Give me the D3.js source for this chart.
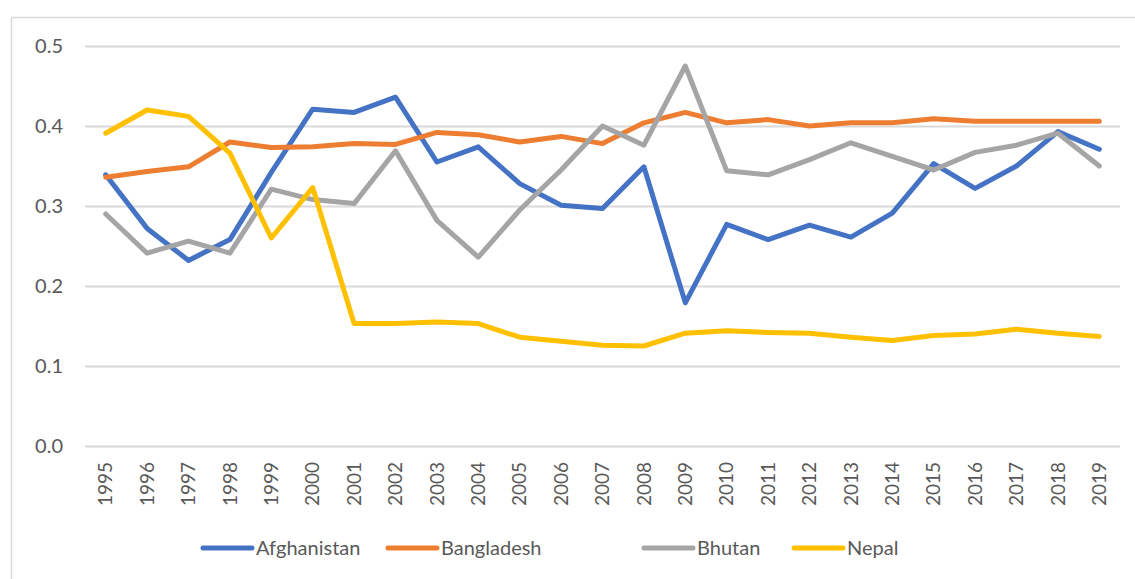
<!DOCTYPE html>
<html>
  <head>
    <meta charset="utf-8">
    <script src="https://d3js.org/d3.v7.min.js"></script>
    <style>
      body { margin: 0; background: #fff; }
      .tick text { fill: #595959; font-family: Lato, "Open Sans", sans-serif; }
      .legend text { fill: #595959; font-family: Lato, "Open Sans", sans-serif; font-size: 20px; }
    </style>
  </head>
  <body>
    <svg width="1135" height="579"></svg>
    <script>
      // data
      const years = ['1995','1996','1997','1998','1999','2000','2001','2002','2003','2004','2005','2006',
                     '2007','2008','2009','2010','2011','2012','2013','2014','2015','2016','2017','2018','2019'];
      const afghanistan = [0.339,0.272,0.232,0.258,0.342,0.421,0.417,0.436,0.355,0.374,0.328,0.301,
                           0.297,0.349,0.179,0.277,0.258,0.276,0.261,0.291,0.353,0.322,0.350,0.393,0.371];
      const bangladesh = [0.336,0.343,0.349,0.380,0.373,0.374,0.378,0.377,0.392,0.389,0.380,0.387,
                          0.378,0.404,0.417,0.404,0.408,0.400,0.404,0.404,0.409,0.406,0.406,0.406,0.406];
      const bhutan = [0.290,0.241,0.256,0.241,0.321,0.308,0.303,0.369,0.282,0.236,0.295,0.345,
                      0.400,0.376,0.475,0.344,0.339,0.358,0.379,0.362,0.345,0.367,0.376,0.391,0.350];
      const nepal = [0.391,0.420,0.412,0.366,0.260,0.323,0.153,0.153,0.155,0.153,0.136,0.131,
                     0.126,0.125,0.141,0.144,0.142,0.141,0.136,0.132,0.138,0.140,0.146,0.141,0.137];
      const seriesNames = ['Afghanistan','Bangladesh','Bhutan','Nepal'];
      const seriesColors = ['#4472c4','#ed7d31','#a5a5a5','#ffc000'];
      const yTicks = [0, 0.1, 0.2, 0.3, 0.4, 0.5];

      const series = [afghanistan, bangladesh, bhutan, nepal].map((vals, i) => ({
        name: seriesNames[i], color: seriesColors[i],
        values: vals.map((v, j) => ({ year: years[j], v: v }))
      }));

      const svg = d3.select('svg');

      // chart border: top and left edges
      svg.append('line')
        .attr('x1', 11.5).attr('y1', 17.5).attr('x2', 1135).attr('y2', 17.5)
        .attr('stroke', '#d9d9d9').attr('stroke-width', 1.5);
      svg.append('line')
        .attr('x1', 11.5).attr('y1', 17.5).attr('x2', 11.5).attr('y2', 579)
        .attr('stroke', '#d9d9d9').attr('stroke-width', 1.5);

      const margin = { left: 85, right: 15, top: 46, bottom: 133 };
      const innerWidth = 1135 - margin.left - margin.right;
      const innerHeight = 579 - margin.top - margin.bottom;

      const g = svg.append('g')
        .attr('transform', `translate(${margin.left}, ${margin.top})`);

      const xScale = d3.scaleBand().domain(years).range([0, innerWidth]);
      const yScale = d3.scaleLinear().domain([0, 0.5]).range([innerHeight, 0]);

      // y axis with grid
      const yAxisG = g.append('g')
        .call(d3.axisLeft(yScale)
          .tickValues(yTicks)
          .tickFormat(d3.format('.1f'))
          .tickSize(-innerWidth)
          .tickPadding(22));
      yAxisG.select('.domain').remove();
      yAxisG.selectAll('.tick line').attr('stroke', '#d9d9d9').attr('stroke-width', 2);
      yAxisG.selectAll('.tick text').style('font-size', '20px');

      // x axis, rotated labels
      const xAxisG = g.append('g')
        .attr('transform', `translate(0, ${innerHeight})`)
        .call(d3.axisBottom(xScale).tickSize(0));
      xAxisG.select('.domain').remove();
      xAxisG.selectAll('.tick text')
        .style('font-size', '19px')
        .attr('text-anchor', 'end')
        .attr('transform', 'rotate(-90)')
        .attr('x', -16)
        .attr('y', 0)
        .attr('dy', '0.35em');

      // lines
      const line = d3.line()
        .x(d => xScale(d.year) + xScale.bandwidth() / 2)
        .y(d => yScale(d.v));

      g.selectAll('.series').data(series)
        .enter().append('path')
          .attr('class', 'series')
          .attr('d', d => line(d.values))
          .attr('fill', 'none')
          .attr('stroke', d => d.color)
          .attr('stroke-width', 5)
          .attr('stroke-linejoin', 'round')
          .attr('stroke-linecap', 'round');

      // legend
      const legendX = [203, 388, 644, 794];
      const legend = svg.append('g').attr('class', 'legend')
        .attr('transform', 'translate(0, 548)');
      const items = legend.selectAll('g').data(series)
        .enter().append('g')
          .attr('transform', (d, i) => `translate(${legendX[i]}, 0)`);
      items.append('line')
        .attr('x1', 0).attr('x2', 49)
        .attr('stroke', d => d.color)
        .attr('stroke-width', 5)
        .attr('stroke-linecap', 'round');
      items.append('text')
        .attr('x', 53)
        .attr('dy', '0.35em')
        .text(d => d.name);
    </script>
  </body>
</html>
